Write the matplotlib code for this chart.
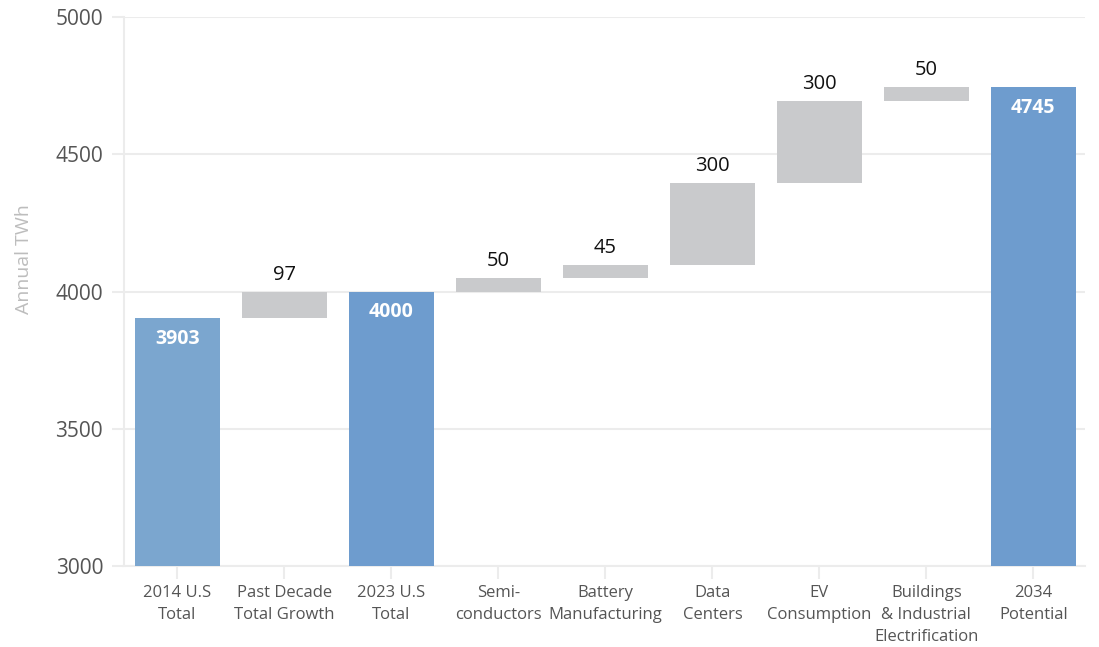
import matplotlib.pyplot as plt
import numpy as np

# data
categories = ["2014 U.S\nTotal", "Past Decade\nTotal Growth", "2023 U.S\nTotal", "Semi-\nconductors",
              "Battery\nManufacturing", "Data\nCenters", "EV\nConsumption",
              "Buildings\n& Industrial\nElectrification", "2034\nPotential"]
values = [3903, 97, 4000, 50, 45, 300, 300, 50, 4745]
is_total = [True, False, True, False, False, False, False, False, True]
yticks = [3000, 3500, 4000, 4500, 5000]

plt.rcParams['font.family'] = ['Open Sans', 'DejaVu Sans']

fig = plt.figure(figsize=(10.99, 6.47), dpi=100)
ax = fig.add_axes([0.1128, 0.1252, 0.8742, 0.8485])

x = np.arange(len(categories))
bottoms = []
heights = []
running = 0
for v, t in zip(values, is_total):
    if t:
        bottoms.append(3000)
        heights.append(v - 3000)
        running = v
    else:
        bottoms.append(running)
        heights.append(v)
        running += v

colors = []
for i, t in enumerate(is_total):
    if not t:
        colors.append("#c9cacc")
    elif i == 0:
        colors.append("#7ba6cf")
    else:
        colors.append("#6e9cce")

ax.bar(x, heights, bottom=bottoms, width=0.8, color=colors, zorder=3)

for i in range(len(values)):
    top = bottoms[i] + heights[i]
    if is_total[i]:
        ax.annotate(str(values[i]), (x[i], top), xytext=(0, -15), textcoords="offset points",
                    ha="center", va="center", color="white", fontweight="bold", fontsize=14, zorder=4)
    else:
        ax.annotate(str(values[i]), (x[i], top), xytext=(0, 5), textcoords="offset points",
                    ha="center", va="bottom", color="#111111", fontsize=14.5, zorder=4)

ax.set_xlim(-0.5, 8.48)
ax.set_ylim(3000, 5000)
ax.set_yticks(yticks)
ax.set_xticks(x)
ax.set_xticklabels(categories, fontsize=12, color="#555555", linespacing=1.5)
ax.tick_params(axis="y", labelsize=15, colors="#555555", length=9, width=1.5, color="#ececec", pad=6)
ax.tick_params(axis="x", length=9, width=1.5, color="#ececec", pad=5)
ax.yaxis.grid(True, color="#ececec", linewidth=1.5, zorder=0)
for s in ["top", "right"]:
    ax.spines[s].set_visible(False)
for s in ["left", "bottom"]:
    ax.spines[s].set_color("#ececec")
    ax.spines[s].set_linewidth(1.5)
ax.set_ylabel("Annual TWh", fontsize=14, color="#bdbdbd")
ax.yaxis.set_label_coords(-0.095, 0.56)

fig.savefig("out.png", dpi=100)
